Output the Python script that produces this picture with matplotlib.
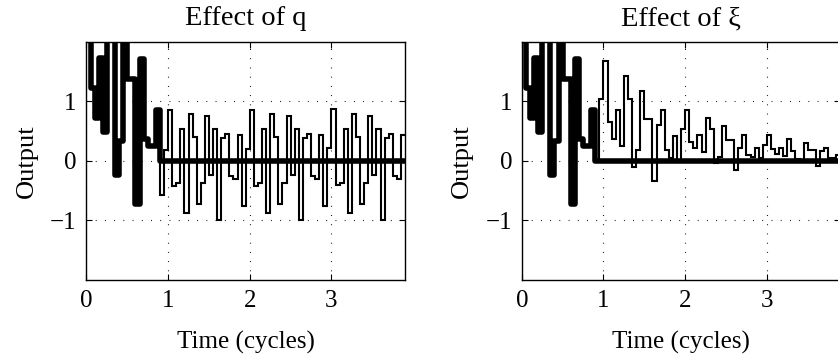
import numpy as np
import matplotlib
matplotlib.use("Agg")
import matplotlib.pyplot as plt

plt.rcParams['font.family'] = ['Liberation Serif', 'DejaVu Serif']
plt.rcParams['font.size'] = 18

dt = 0.05  # 20 samples per cycle

# thick line: nominal response (same in both panels), values above 2 run off the top
nominal = [2.5, 1.22, 0.72, 1.72, 0.48, 2.4, 2.6, -0.23, 0.33, 2.3,
           1.38, 1.38, -0.72, 1.71, 0.36, 0.25, 0.25, 0.85] + [0.0] * 60

# thin line, left panel (effect of q)
out_q = nominal[:18] + [
    -0.57, 0.18,
    0.85, -0.42, -0.37, 0.54, -0.87, 0.78, 0.40, -0.73, -0.37, 0.75,
    -0.23, 0.53, -1.00, 0.38, 0.45, -0.25, -0.30, 0.43, -0.76, 0.20,
    0.86, -0.42, -0.37, 0.54, -0.87, 0.78, 0.40, -0.73, -0.37, 0.75,
    -0.23, 0.53, -1.00, 0.38, 0.45, -0.25, -0.30, 0.43, -0.76, 0.21,
    0.87, -0.41, -0.37, 0.54, -0.87, 0.78, 0.40, -0.73, -0.37, 0.75,
    -0.23, 0.53, -1.00, 0.38, 0.45, -0.25, -0.30, 0.43,
]

# thin line, right panel (effect of xi)
out_xi = nominal[:18] + [
    0.0, 1.04,
    1.68, 0.66, 0.36, 0.85, 0.25, 1.43, 1.04, -0.10, 0.18, 1.17,
    0.71, 0.70, -0.34, 0.60, 0.85, 0.18, 0.04, 0.42, 0.02, 0.54,
    0.85, 0.31, 0.22, 0.43, 0.15, 0.72, 0.53, -0.04, 0.06, 0.59,
    0.35, 0.35, -0.16, 0.22, 0.43, 0.10, 0.07, 0.21, 0.05, 0.27,
    0.43, 0.20, 0.12, 0.21, 0.08, 0.36, 0.17, 0.03, 0.02, 0.30,
    0.18, 0.18, -0.08, 0.16, 0.21, 0.05, 0.05, 0.10,
]

titles = ["Effect of q", "Effect of \u03be"]
xticks = [0, 1, 2, 3]
yticks = [-1, 0, 1]

fig = plt.figure(figsize=(8.38, 3.62), dpi=100)
boxes = [[0.1032, 0.2265, 0.3801, 0.6583],
         [0.6227, 0.2265, 0.3801, 0.6583]]

for box, title, thin in zip(boxes, titles, [out_q, out_xi]):
    ax = fig.add_axes(box)
    edges = np.arange(len(thin) + 1) * dt
    ax.stairs(thin, edges, baseline=None, color='k', lw=1.5,
              joinstyle='miter')
    ax.stairs(nominal, edges, baseline=None, color='k', lw=4.0,
              joinstyle='round', capstyle='round')
    ax.set_xlim(0, 3.9)
    ax.set_ylim(-2, 2)
    ax.set_xticks(xticks)
    ax.set_yticks(yticks)
    ax.grid(True, color='k', lw=0.8, linestyle=(0, (0.8, 7.5)))
    ax.tick_params(direction='in', length=4, width=0.8, top=True, right=True,
                   pad=7)
    for s in ax.spines.values():
        s.set_linewidth(1.0)
    ax.set_title(title, pad=12, fontsize=20.5)
    ax.set_xlabel("Time (cycles)", labelpad=14)
    ax.set_ylabel("Output", labelpad=9, fontsize=19)

fig.savefig("out.png", dpi=100)
